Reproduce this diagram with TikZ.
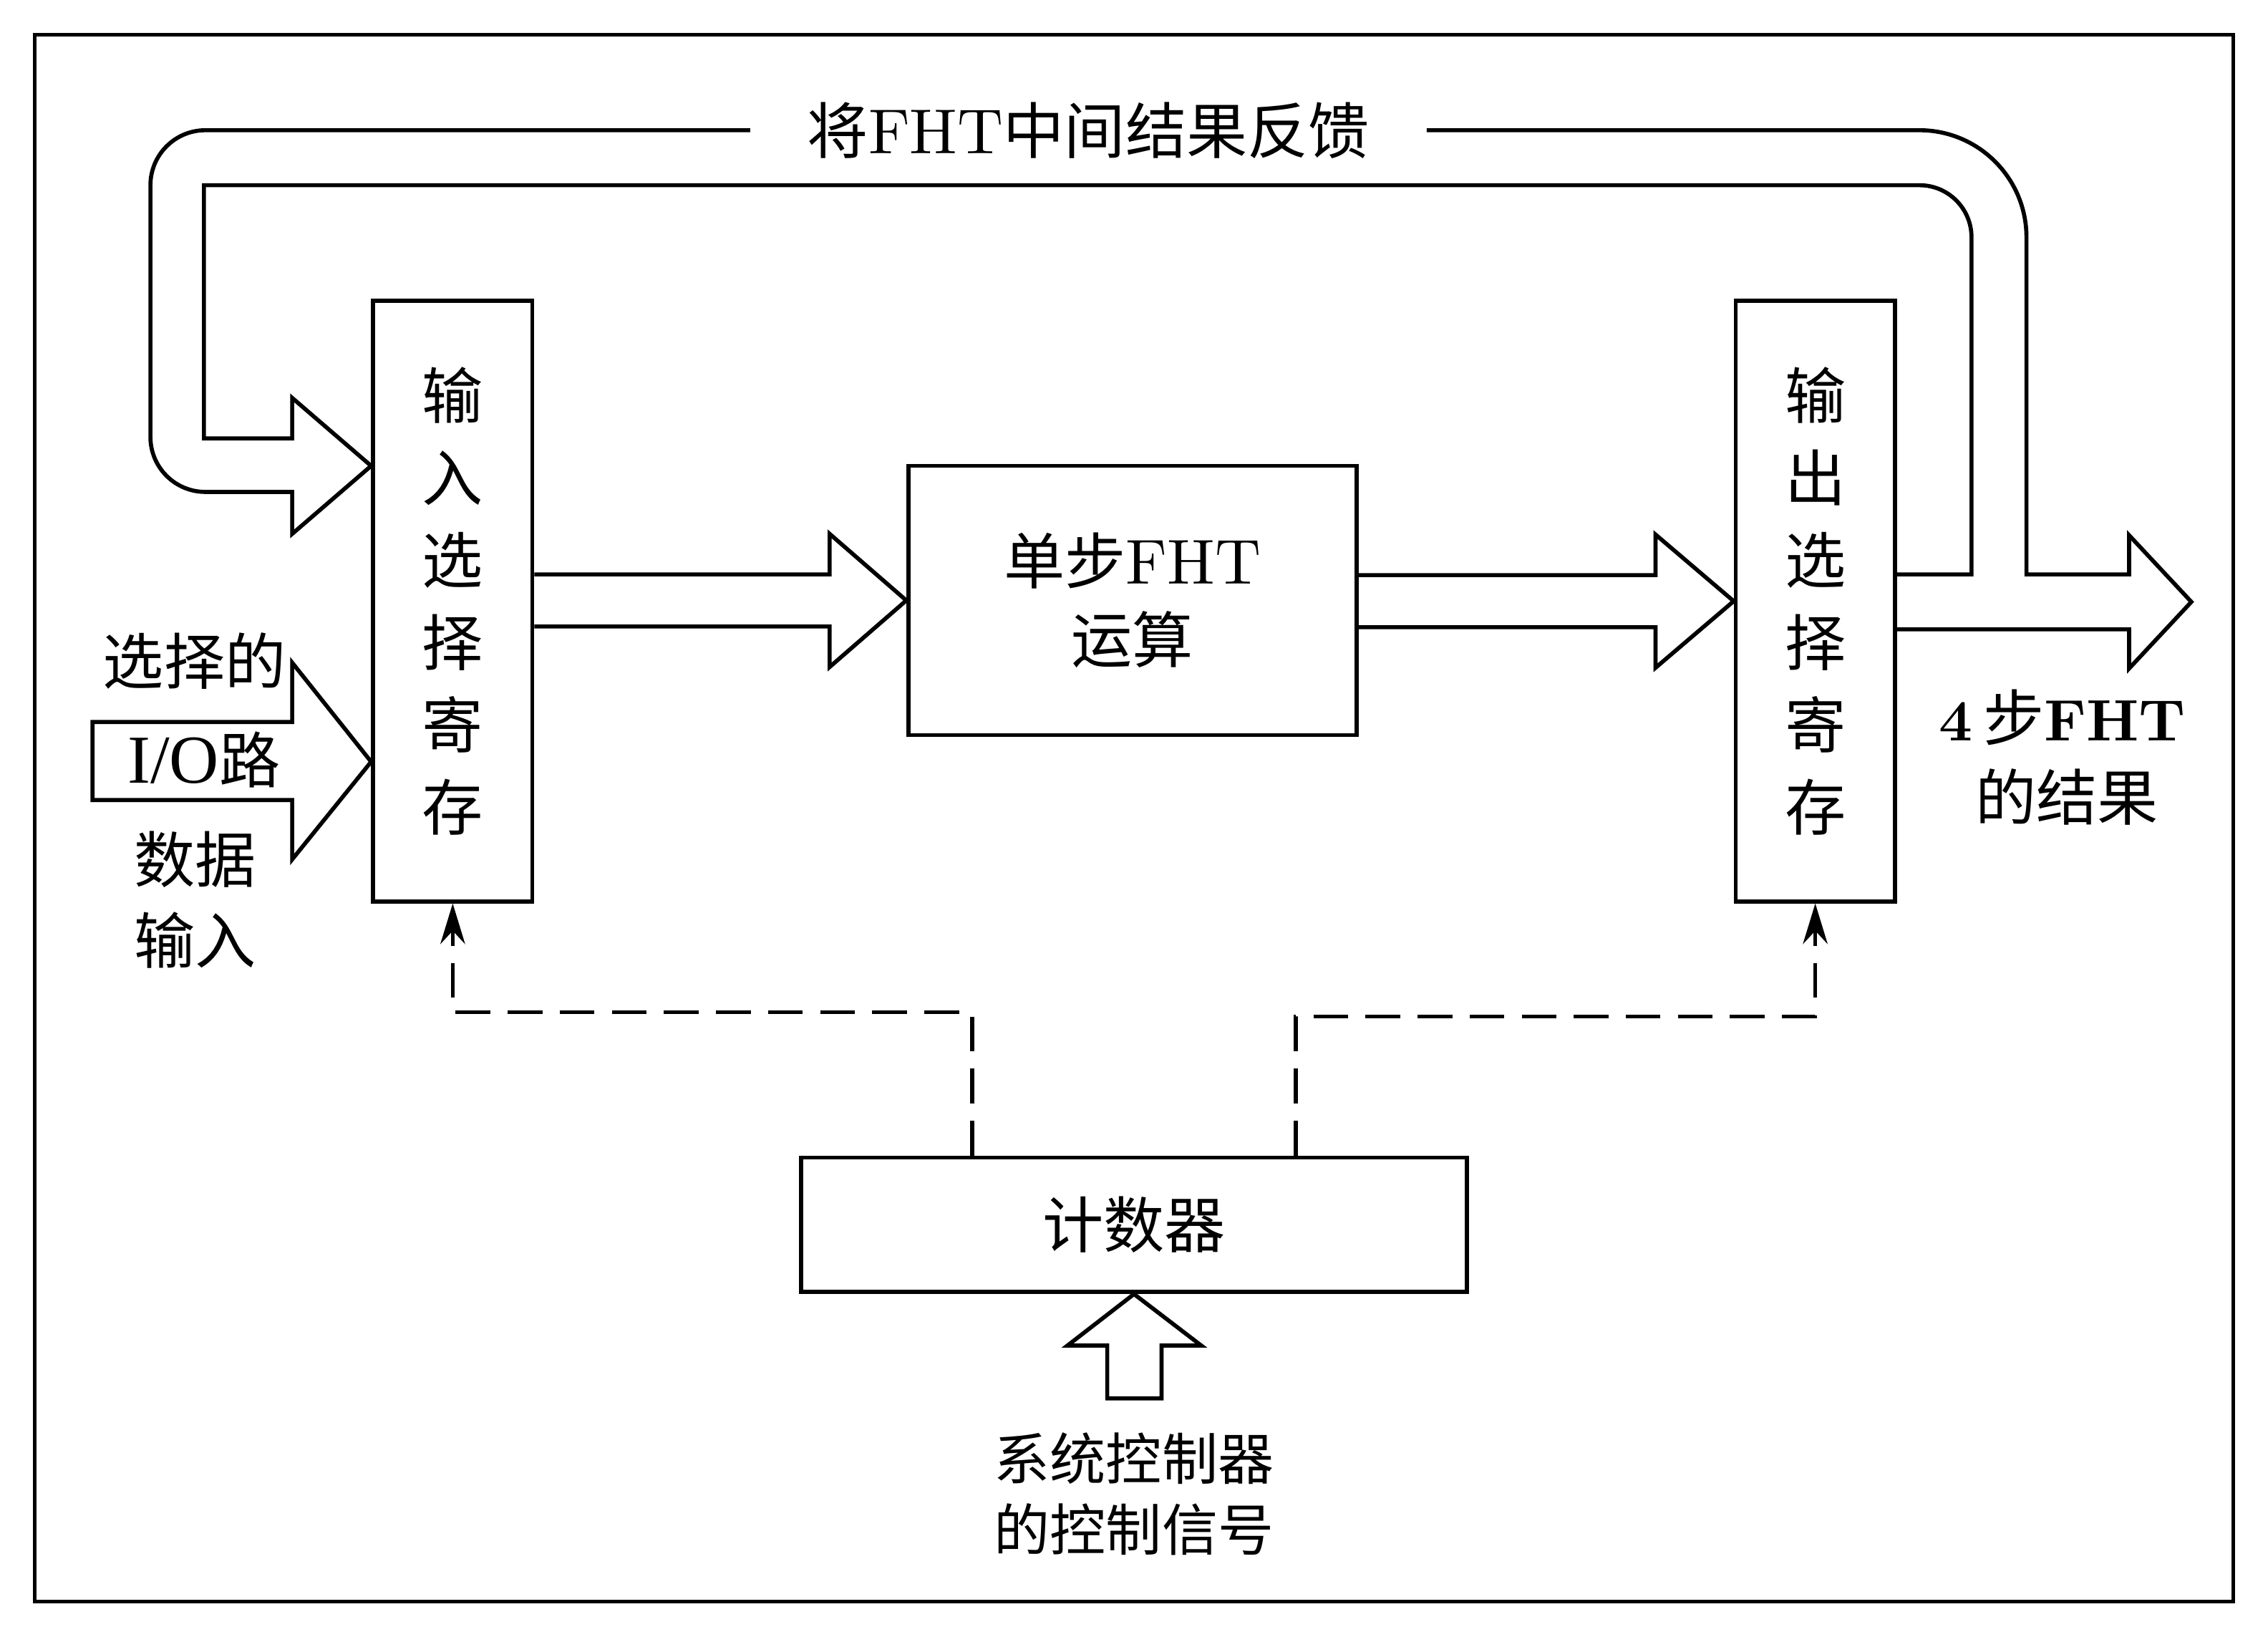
\documentclass[tikz,border=0pt]{standalone}
\usepackage{fontspec}
\newfontfamily\zhfont{Noto Sans CJK SC}
\newfontfamily\tmsfont{Liberation Serif}
\newfontfamily\cmfont{lmroman10-regular.otf}[BoldFont=lmroman10-bold.otf]
\usetikzlibrary{calc,arrows.meta}

\newcommand\zh[1]{{\zhfont #1}}
\newcommand\fht[1]{{\cmfont\fontsize{25}{25}\selectfont #1}}
\newcommand\fhtb[1]{{\cmfont\bfseries\fontsize{23}{23}\selectfont #1}}
% block arrow, open at the tail: tail, tip, shaft half, head half, head length
\newcommand\blkarrow[5]{%
  \draw ($(#1 |- #2)+(0,-#3)$) -- ($(#2)+(-#5,-#3)$) -- ($(#2)+(-#5,-#4)$)
    -- (#2) -- ($(#2)+(-#5,#4)$) -- ($(#2)+(-#5,#3)$) -- ($(#1 |- #2)+(0,#3)$);}

\begin{document}
\begin{tikzpicture}[x=0.2mm,y=-0.2mm,line width=1.6pt,
  regbox/.style={draw,minimum width=22mm,minimum height=83mm,inner sep=0pt,align=center,
    font=\zhfont\fontsize{24}{32.4}\selectfont},
  blockbox/.style={draw,inner sep=0pt,align=center,font=\fontsize{24}{31}\selectfont},
  lbl/.style={inner sep=0pt,align=center,font=\fontsize{24}{28}\selectfont},
  ctl/.style={dash pattern=on 4.8mm off 2.4mm,-{Stealth[length=5.6mm,width=3.4mm]}}]
\useasboundingbox (0,0) rectangle (1568,1131);
\draw (24,24) rectangle (1544,1107);

% registers and blocks
\node[regbox] (inbox) at (313,415.5) {输\\入\\选\\择\\寄\\存};
\node[regbox] (outbox) at (1255,415.5) {输\\出\\选\\择\\寄\\存};
\node[blockbox,minimum width=62mm,minimum height=37.2mm] (fht) at (783,415) {\zh{单步}\fht{FHT}\\\zh{运算}};
\node[blockbox,minimum width=92mm,minimum height=18.6mm] (cnt) at (784,846.5) {\zh{计数器}};

% labels
\node[lbl,minimum width=93mm] (fb) at (752.5,90) {\zh{将}\fht{FHT}\zh{中间结果反馈}};
\node[lbl] (res1) at (1426,496) {\fhtb{4}\,\zh{步}\fhtb{FHT}};
\node[lbl] (res2) at (1429,551) {\zh{的结果}};
\node[lbl] (io1) at (134.5,457) {\zh{选择的}};
\node[lbl] (io2) at (141,525) {{\tmsfont\fontsize{27}{27}\selectfont I/O}\zh{路}};
\node[lbl] (io3) at (135,594) {\zh{数据}};
\node[lbl] (io4) at (135,650) {\zh{输入}};
\node[lbl,font=\fontsize{22}{26}\selectfont] (sys1) at (784,1008) {\zh{系统控制器}};
\node[lbl,font=\fontsize{22}{26}\selectfont] (sys2) at (784,1057) {\zh{的控制信号}};

\coordinate (outtip) at (1515,416);
\coordinate (iotip) at (inbox.west |- 0,526.5);
\coordinate (fbtip) at (inbox.west |- 0,322);

% data path
\blkarrow{inbox.east}{fht.west}{18}{46}{53}
\blkarrow{fht.east}{outbox.west}{18}{46}{54}
\draw (64,499) -- (202,499) -- (202,458) -- (iotip) -- (202,594) -- (202,553) -- (64,553) -- cycle;

% result out and feedback
\draw (fb.east) -- (1327,90) arc[start angle=-90,end angle=0,radius=74] -- (1401,397)
  -- (1472,397) -- (1472,370) -- (outtip) -- (1472,462) -- (1472,435) -- (outbox.east |- 0,435);
\draw (outbox.east |- 0,397) -- (1363,397) -- (1363,164) arc[start angle=0,end angle=-90,radius=36]
  -- (141,128) -- (141,303) -- (202,303) -- (202,275) -- (fbtip) -- (202,369) -- (202,340)
  -- (142,340) arc[start angle=90,end angle=180,radius=38] -- (104,128)
  arc[start angle=180,end angle=270,radius=38] -- (fb.west);

% control
\draw (765.5,966.5) -- (765.5,930) -- (738,930) -- (cnt.south) -- (830.5,930) -- (803,930) -- (803,966.5) -- cycle;
\draw[ctl] ([xshift=-22.4mm]cnt.north) -- ++(0,-99) -| (inbox.south);
\draw[ctl] ([xshift=22.4mm]cnt.north) -- ++(0,-96) -| (outbox.south);
\end{tikzpicture}
\end{document}
